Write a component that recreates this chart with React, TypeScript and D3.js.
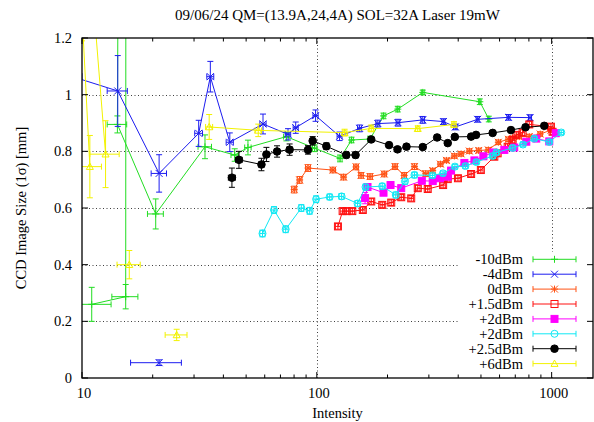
import React from 'react';
import * as d3 from 'd3';

// [intensity, size, intensity error, size error]; null breaks the line
type Pt = [number, number, number, number] | null;

const title = '09/06/24 QM=(13.9A,24,4A) SOL=32A Laser 19mW';
const xLabel = 'Intensity';
const yLabel = 'CCD Image Size (1σ) [mm]';
const xTickValues = [10, 100, 1000];
const yTickValues = [0, 0.2, 0.4, 0.6, 0.8, 1, 1.2];
const seriesLabels = ['-10dBm', '-4dBm', '0dBm', '+1.5dBm', '+2dBm', '+2dBm', '+2.5dBm', '+6dBm'];

const m10dBm: Pt[] = [
  [11.0, 0.26, 2.3, 0.06], [15.35, 0.287, 1.95, 0.043], [15.5, 8.0, 1.9, 0.5],
  [14.15, 0.895, 1.35, 0.03], [20.6, 0.579, 1.6, 0.053], [33.4, 0.816, 2.2, 0.042],
  [44.7, 0.787, 1.6, 0.022], [50.9, 0.8135, 1.6, 0.026], [74.2, 0.852, 2, 0.015],
  [97.9, 0.811, 2, 0.012], [125.6, 0.775, 2.5, 0.012], [140.6, 0.84, 2.5, 0.01],
  [168.5, 0.8435, 3, 0.01], [192.3, 0.925, 3, 0.01], [221.2, 0.949, 3.5, 0.01],
  [282.6, 1.008, 4, 0.008], [494.6, 0.975, 6, 0.01], [540, 0.914, 6, 0.01],
];

const m4dBm: Pt[] = [
  [9.0, 1.065, 1.0, 0.05], [14.2, 1.013, 1.4, 0.125], [21.3, 0.722, 1.6, 0.066],
  [31.4, 0.8635, 1.2, 0.046], [35.2, 1.0635, 1.2, 0.054], [42.6, 0.832, 1.5, 0.033],
  [59.0, 0.8965, 1.8, 0.035], [75.4, 0.86, 2, 0.02], [81.3, 0.8835, 2, 0.02],
  [98.8, 0.926, 2.5, 0.02], [125, 0.853, 3, 0.015], [152.1, 0.881, 3, 0.012],
  [181.9, 0.898, 3.5, 0.012], [221.6, 0.901, 4, 0.012], [282.6, 0.911, 5, 0.012],
  [346, 0.905, 5, 0.01], [389, 0.886, 6, 0.01], [484, 0.913, 7, 0.01],
  [655, 0.92, 10, 0.01], [809, 0.919, 12, 0.01],
  null,
  [21.3, 0.054, 5.2, 0.01],
];

const p0dBm: Pt[] = [
  [80.1, 0.665, 2, 0.012], [84.5, 0.699, 2, 0.012], [91.7, 0.741, 2.2, 0.012],
  [117.1, 0.734, 3, 0.01], [130, 0.709, 3, 0.01], [146.9, 0.745, 3.5, 0.01],
  [154.3, 0.715, 3.5, 0.01], [168.5, 0.711, 4, 0.01], [193.6, 0.72, 4.5, 0.01],
  [215.3, 0.746, 5, 0.01], [235.5, 0.715, 5.5, 0.01], [260.5, 0.746, 6, 0.01],
  [291, 0.721, 7, 0.01], [311.6, 0.732, 7, 0.008], [336, 0.755, 8, 0.008],
  [356.4, 0.768, 8, 0.008], [385.3, 0.7835, 9, 0.008], [411.6, 0.791, 9, 0.008],
  [446.3, 0.801, 10, 0.008], [489, 0.803, 11, 0.008], [537.6, 0.805, 12, 0.008],
  [592.9, 0.832, 13, 0.008], [654, 0.8425, 15, 0.008], [682, 0.846, 15, 0.008],
  [728, 0.852, 16, 0.008], [803, 0.852, 18, 0.008], [894, 0.861, 20, 0.008],
  [993, 0.875, 22, 0.008],
];

const p1_5dBm: Pt[] = [
  [123, 0.535, 3, 0.01], [128.8, 0.589, 3, 0.01], [133.9, 0.589, 3, 0.01],
  [141.6, 0.589, 3, 0.01], [157, 0.593, 3.5, 0.01], [170.5, 0.623, 4, 0.01],
  [189.9, 0.611, 4, 0.01], [207.4, 0.619, 4.5, 0.01], [228.8, 0.638, 5, 0.01],
  [252.3, 0.634, 5.5, 0.01], [269.1, 0.67, 6, 0.01], [296.7, 0.667, 6.5, 0.01],
  [345, 0.681, 7.5, 0.01], [361, 0.702, 8, 0.01], [399, 0.705, 9, 0.01],
  [454, 0.72, 10, 0.01], [499.5, 0.734, 11, 0.01], [570, 0.781, 12, 0.01],
  [589, 0.793, 13, 0.01], [649.6, 0.816, 14, 0.01], [682, 0.84, 15, 0.01],
  [707, 0.858, 15, 0.01], [752, 0.866, 16, 0.01], [803, 0.895, 18, 0.01],
  [993, 0.887, 22, 0.01], [1009, 0.869, 22, 0.01],
];

const p2dBmA: Pt[] = [
  [160.5, 0.635, 3.5, 0.02], [164.4, 0.674, 3.5, 0.01], [192.3, 0.654, 4, 0.01],
  [206, 0.681, 4.5, 0.01], [228.8, 0.67, 5, 0.01], [280, 0.696, 6, 0.008],
  [311.6, 0.695, 7, 0.008], [334.4, 0.705, 7, 0.008], [361, 0.7105, 8, 0.008],
  [373, 0.732, 8, 0.008], [425, 0.759, 9, 0.008], [469, 0.768, 10, 0.008],
  [512, 0.7825, 11, 0.008], [564.6, 0.796, 12, 0.008], [628.8, 0.805, 14, 0.008],
  [693, 0.8135, 15, 0.008], [780, 0.834, 17, 0.008], [860, 0.845, 19, 0.008],
  [977, 0.835, 21, 0.008], [1041, 0.864, 23, 0.008],
];

const p2dBmB: Pt[] = [
  [58.7, 0.51, 1.5, 0.012], [65.7, 0.593, 1.5, 0.012], [73.7, 0.525, 1.8, 0.012],
  [85.9, 0.6, 2, 0.012], [93.2, 0.59, 2, 0.012], [99.3, 0.631, 2.2, 0.012],
  [113.4, 0.639, 2.5, 0.01], [127.5, 0.641, 3, 0.01], [149.1, 0.616, 3.5, 0.01],
  [161.2, 0.674, 3.5, 0.01], [189.9, 0.677, 4, 0.01], [216.9, 0.646, 5, 0.01],
  [237.4, 0.694, 5, 0.01], [260.5, 0.7165, 6, 0.01], [310.7, 0.715, 7, 0.008],
  [344.4, 0.7225, 7.5, 0.008], [387.3, 0.746, 8.5, 0.008], [429.3, 0.748, 9.5, 0.008],
  [478, 0.762, 10.5, 0.008], [560.8, 0.7835, 12, 0.008], [581.5, 0.796, 12.5, 0.008],
  [682, 0.812, 15, 0.008], [755, 0.824, 16.5, 0.008], [843.4, 0.845, 18.5, 0.008],
  [977, 0.833, 21, 0.008], [1098.6, 0.8665, 24, 0.008],
];

const p2_5dBm: Pt[] = [
  [43.5, 0.707, 1.5, 0.034],
  null,
  [46.6, 0.77, 1.5, 0.03], [58.1, 0.7535, 1.5, 0.022], [61.0, 0.789, 1.5, 0.025],
  [67.7, 0.7995, 1.5, 0.02], [76.6, 0.806, 2, 0.02], [91.7, 0.805, 2, 0.015],
  [96.0, 0.837, 2, 0.015], [109.8, 0.818, 2.5, 0.012], [133.5, 0.787, 3, 0.01],
  [146.2, 0.787, 3, 0.01], [170.5, 0.842, 3.5, 0.008], [203, 0.822, 4, 0.008],
  [220.6, 0.807, 4.5, 0.008], [240.9, 0.8165, 5, 0.008], [282.6, 0.815, 6, 0.008],
  [325.4, 0.849, 7, 0.008], [361, 0.829, 8, 0.008], [387, 0.851, 8, 0.008],
  [454, 0.852, 10, 0.008], [476.5, 0.858, 10, 0.008], [560.8, 0.865, 12, 0.008],
  [671, 0.875, 14, 0.008], [774, 0.885, 16, 0.008], [930, 0.89, 20, 0.008],
];

const p6dBm: Pt[] = [
  [10.0, 1.29, 1.2, 0.1], [10.8, 0.746, 1.3, 0.11],
  null,
  [11.0, 1.4, 1.3, 0.1], [12.6, 0.79, 1.8, 0.118],
  null,
  [15.9, 0.4, 1.8, 0.05],
  null,
  [25.3, 0.152, 2.7, 0.02],
  null,
  [34.8, 0.886, 1.2, 0.044], [56.3, 0.874, 1.8, 0.022], [131.3, 0.866, 3, 0.012],
  [170.5, 0.881, 3.5, 0.012], [269, 0.88, 5.5, 0.01], [383.5, 0.895, 8, 0.01],
];

const seriesData = [m10dBm, m4dBm, p0dBm, p1_5dBm, p2dBmA, p2dBmB, p2_5dBm, p6dBm];
const colors = ['#22dd22', '#1c1cf0', '#ff5214', '#ff1010', '#ff00ff', '#10e8f4', '#000000', '#f2f200'];
const markers = ['plus', 'cross', 'star', 'box', 'fbox', 'circle', 'fcircle', 'triangle'];

const W = 594;
const H = 422;
const left = 82, right = 593, top = 38, bottom = 378;
const FONT = '"Liberation Serif", "DejaVu Serif", serif';

function Marker({ kind, cx, cy, color }: { kind: string; cx: number; cy: number; color: string }) {
  const s = 3.5;
  const plus = `M${cx - s},${cy}H${cx + s}M${cx},${cy - s}V${cy + s}`;
  const cross = `M${cx - s},${cy - s}L${cx + s},${cy + s}M${cx - s},${cy + s}L${cx + s},${cy - s}`;
  switch (kind) {
    case 'plus':
      return <path d={plus} stroke={color} fill="none" />;
    case 'cross':
      return <path d={cross} stroke={color} fill="none" />;
    case 'star':
      return <path d={plus + cross} stroke={color} fill="none" />;
    case 'box':
      return <rect x={cx - s} y={cy - s} width={2 * s} height={2 * s} stroke={color} fill="none" />;
    case 'fbox':
      return <rect x={cx - s} y={cy - s} width={2 * s} height={2 * s} stroke={color} fill={color} />;
    case 'circle':
      return <circle cx={cx} cy={cy} r={s} stroke={color} fill="none" />;
    case 'fcircle':
      return <circle cx={cx} cy={cy} r={s + 0.3} stroke={color} fill={color} />;
    default:
      return (
        <path d={`M${cx},${cy - s}L${cx + s},${cy + s * 0.8}L${cx - s},${cy + s * 0.8}Z`} stroke={color} fill="none" />
      );
  }
}

export default function App() {
  const x = d3.scaleLog().domain([10, 1500]).range([left, right]);
  const y = d3.scaleLinear().domain([0, 1.2]).range([bottom, top]);
  const cap = 3;

  const line = d3
    .line<Pt>()
    .defined((d) => d !== null)
    .x((d) => x((d as number[])[0]))
    .y((d) => y((d as number[])[1]));

  const minorX = x.ticks().filter((t) => !xTickValues.includes(t));

  const keyX = 523, keyY0 = 259.3, keyStep = 14.9;

  return (
    <svg width={W} height={H} style={{ position: 'absolute', left: 0, top: 0, background: '#fff' }} fontFamily={FONT}>
      <defs>
        <clipPath id="plot">
          <rect x={left} y={top} width={right - left} height={bottom - top} />
        </clipPath>
      </defs>
      <rect width={W} height={H} fill="#fff" />

      <text x={(left + right) / 2} y={20} textAnchor="middle" fontSize={15}>{title}</text>

      {/* grid */}
      <g stroke="#000" strokeWidth={1} strokeDasharray="1,2.5" opacity={0.75}>
        {yTickValues.filter((t) => t > 0 && t < 1.2).map((t) => (
          <line key={t} x1={left} x2={right} y1={Math.round(y(t)) + 0.5} y2={Math.round(y(t)) + 0.5} />
        ))}
        {xTickValues.filter((t) => t > 10).map((t) => (
          <line key={t} x1={Math.round(x(t)) + 0.5} x2={Math.round(x(t)) + 0.5} y1={top} y2={bottom} />
        ))}
      </g>

      {/* data */}
      <g clipPath="url(#plot)">
        {seriesData.map((data, i) => {
          const c = colors[i];
          const pts = data.filter((d) => d !== null) as [number, number, number, number][];
          return (
            <g key={i}>
              <path d={line(data) || ''} stroke={c} fill="none" strokeWidth={1} />
              {pts.map((d, j) => {
                const px = x(d[0]), py = y(d[1]);
                const y1 = y(d[1] - d[3]), y2 = y(d[1] + d[3]);
                const x1 = x(d[0] - d[2]), x2 = x(d[0] + d[2]);
                return (
                  <g key={j}>
                    <path
                      d={`M${px},${y1}V${y2}M${px - cap},${y1}H${px + cap}M${px - cap},${y2}H${px + cap}` +
                        `M${x1},${py}H${x2}M${x1},${py - cap}V${py + cap}M${x2},${py - cap}V${py + cap}`}
                      stroke={c}
                      fill="none"
                      strokeWidth={1}
                    />
                    <Marker kind={markers[i]} cx={px} cy={py} color={c} />
                  </g>
                );
              })}
            </g>
          );
        })}
      </g>

      {/* key */}
      <rect x={460} y={252} width={right - 460} height={bottom - 252 - 1} fill="#fff" />
      {seriesLabels.map((lab, i) => {
        const ky = keyY0 + i * keyStep;
        const c = colors[i];
        return (
          <g key={i}>
            <text x={keyX} y={ky + 5} textAnchor="end" fontSize={14.5}>{lab}</text>
            <path
              d={`M533,${ky}H576M533,${ky - cap}V${ky + cap}M576,${ky - cap}V${ky + cap}`}
              stroke={c}
              fill="none"
            />
            <Marker kind={markers[i]} cx={554.5} cy={ky} color={c} />
          </g>
        );
      })}

      {/* border and ticks */}
      <g stroke="#000" fill="none">
        <rect x={left} y={top} width={right - left} height={bottom - top} strokeWidth={1.3} />
        {yTickValues.map((t) => (
          <path key={t} d={`M${left},${y(t)}h6M${right},${y(t)}h-6`} />
        ))}
        {xTickValues.map((t) => (
          <path key={t} d={`M${x(t)},${bottom}v-6M${x(t)},${top}v6`} />
        ))}
        {minorX.map((t) => (
          <path key={t} d={`M${x(t)},${bottom}v-3.5M${x(t)},${top}v3.5`} />
        ))}
      </g>

      <g fontSize={14.5}>
        {yTickValues.map((t) => (
          <text key={t} x={72} y={y(t) + 5} textAnchor="end">{String(t)}</text>
        ))}
        {xTickValues.map((t) => (
          <text key={t} x={x(t) + 2} y={398} textAnchor="middle">{String(t)}</text>
        ))}
        <text x={(left + right) / 2} y={418} textAnchor="middle">{xLabel}</text>
        <text transform={`translate(26,${(top + bottom) / 2}) rotate(-90)`} textAnchor="middle">{yLabel}</text>
      </g>
    </svg>
  );
}
